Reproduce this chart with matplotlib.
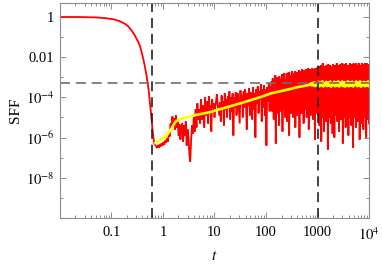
import matplotlib
matplotlib.use("Agg")
import matplotlib.pyplot as plt
import numpy as np
from matplotlib.ticker import FixedLocator, FixedFormatter

plt.rcParams["font.family"] = ["Liberation Serif", "DejaVu Serif"]
plt.rcParams["mathtext.fontset"] = "stix"

FRAME = "#8c8c8c"

# smooth early decay of the SFF (log10 t, log10 SFF)
DECAY_LOGT = [-2.0, -1.6, -1.3, -1.1, -0.95, -0.85, -0.75, -0.68, -0.6, -0.54,
              -0.48, -0.44, -0.4, -0.36, -0.32, -0.28, -0.24, -0.2, -0.17]
DECAY_LOGS = [0.0, -0.002, -0.02, -0.06, -0.12, -0.2, -0.32, -0.45, -0.7, -0.95,
              -1.25, -1.5, -1.9, -2.35, -2.9, -3.6, -4.6, -5.7, -6.3]

# noisy part, read in four stretches of log10 t
DIP_RANGE = (-0.13, 0.72)
DIP_LOGS = [-6.45, -6.52, -6.38, -6.5, -6.33, -6.44, -6.28, -6.4, -6.22, -6.35,
            -6.15, -6.25, -6.05, -6.2, -5.75, -5.95, -5.3, -5.6, -4.95, -5.4,
            -5.05, -5.6, -4.9, -5.5, -5.2, -5.9, -5.35, -6.1, -5.5, -5.3,
            -6.2, -5.4, -5.9, -5.2, -6.4, -5.6, -6.0, -6.8, -7.2, -6.1,
            -5.4, -5.8, -5.0, -5.7, -4.6, -5.5, -4.3, -5.1, -4.6, -5.3]

RAMP_RANGE = (0.74, 2.1)
RAMP_LOGS = [-4.1, -5.1, -4.4, -4.7, -5.5, -4.0, -4.6, -4.9, -4.2, -5.3,
             -3.95, -4.8, -4.4, -5.7, -4.1, -4.5, -4.3, -5.0, -4.5, -4.2,
             -3.85, -4.3, -4.6, -4.9, -4.25, -5.2, -3.9, -4.5, -4.2, -5.4,
             -3.8, -4.6, -4.1, -5.0, -3.95, -4.35, -3.7, -5.1, -4.0, -4.7,
             -3.8, -5.9, -4.0, -4.5, -3.75, -4.9, -4.1, -3.8, -4.6, -5.3,
             -3.65, -4.3, -3.9, -5.0, -3.7, -4.5, -3.6, -4.2, -5.6, -3.8,
             -4.4, -3.55, -4.9, -3.75, -4.2, -5.1, -3.5, -4.6, -3.8, -6.0,
             -3.6, -4.3, -3.45, -4.8, -3.7, -4.1, -3.35, -5.2, -3.6, -4.5,
             -3.4, -4.9, -3.6, -6.4, -3.5, -4.2, -3.3, -4.7, -3.45, -4.5]

RISE_RANGE = (2.11, 3.0)
RISE_LOGS = [-3.2, -4.7, -3.05, -4.2, -5.1, -3.3, -4.5, -2.9, -6.3, -3.15,
             -4.8, -3.0, -4.4, -3.25, -5.4, -2.95, -4.1, -4.7, -3.1, -4.3,
             -2.85, -5.7, -3.0, -4.6, -2.8, -4.0, -5.0, -3.1, -4.4, -2.8,
             -5.2, -3.0, -4.5, -2.75, -5.9, -3.0, -4.2, -2.9, -4.8, -2.7,
             -4.4, -3.0, -5.0, -2.8, -4.3, -2.7, -5.5, -2.95, -4.6, -2.75,
             -4.9, -2.85, -4.2, -2.65, -6.0, -2.8, -4.5, -2.7, -4.8, -2.6,
             -4.3, -2.8, -5.3, -2.65, -4.6, -2.75, -4.1, -2.6, -5.0, -2.7,
             -4.5, -2.55, -5.6, -2.7, -4.3, -2.6, -4.9, -2.7, -4.4, -2.55,
             -5.1, -2.65, -4.4, -2.6, -6.1, -2.55, -4.6, -2.65, -4.8, -2.5]

PLATEAU_RANGE = (3.01, 4.0)
PLATEAU_LOGS = [-2.6, -4.9, -2.45, -5.4, -2.6, -4.6, -2.4, -6.2, -2.55, -5.0,
                -2.3, -4.8, -2.6, -5.7, -2.45, -4.7, -2.5, -5.2, -2.4, -4.6,
                -2.55, -6.6, -2.35, -5.0, -2.5, -4.7, -2.4, -5.3, -2.6, -4.9,
                -2.45, -5.8, -2.35, -4.8, -2.5, -6.0, -2.4, -4.9, -2.55, -4.6,
                -2.3, -5.2, -2.5, -4.9, -2.4, -5.7, -2.55, -4.7, -2.35, -5.1,
                -2.45, -4.8, -2.3, -6.3, -2.5, -5.0, -2.35, -4.7, -2.5, -5.5,
                -2.3, -4.9, -2.45, -5.1, -2.4, -5.9, -2.5, -4.7, -2.3, -5.0,
                -2.45, -5.4, -2.35, -4.8, -2.5, -6.5, -2.3, -5.0, -2.4, -4.7,
                -2.5, -5.5, -2.3, -4.9, -2.4, -5.2, -2.5, -4.8, -2.3, -6.1,
                -2.4, -4.9, -2.5, -5.3, -2.3, -4.7, -2.4, -5.6, -2.35, -5.0,
                -2.3, -4.8, -2.45, -6.0, -2.3, -5.1, -2.4, -4.8, -2.35, -5.3]

# running average (yellow)
AVG_LOGT = [-0.15, -0.05, 0.05, 0.15, 0.24, 0.30, 0.45, 0.63, 0.93, 1.02,
            1.3, 1.6, 1.9, 2.1, 2.39, 2.6, 2.84]
AVG_LOGS = [-6.27, -6.12, -5.97, -5.62, -5.22, -5.12, -5.0, -4.88, -4.73, -4.65,
            -4.45, -4.22, -3.98, -3.8, -3.63, -3.5, -3.38]
AVG_TAIL_RANGE = (2.86, 4.0)
AVG_TAIL_LOGS = [-3.32, -3.4, -3.28, -3.42, -3.25, -3.44, -3.3, -3.38, -3.22, -3.45,
                 -3.27, -3.41, -3.2, -3.46, -3.29, -3.4, -3.23, -3.44, -3.26, -3.42,
                 -3.21, -3.47, -3.3, -3.39, -3.22, -3.45, -3.25, -3.43, -3.2, -3.46,
                 -3.28, -3.4, -3.21, -3.44, -3.24, -3.47, -3.27, -3.41, -3.2, -3.45,
                 -3.26, -3.42, -3.22, -3.46, -3.28, -3.39, -3.21, -3.44, -3.25, -3.43,
                 -3.2, -3.47, -3.27, -3.4, -3.23, -3.45, -3.26, -3.42, -3.21, -3.44]

T_MARKERS = [0.6, 1000]
SFF_LEVEL = 5e-4

X_MAJOR = [0.01, 0.1, 1, 10, 100, 1000, 1e4]
X_LABELS = ["", "0.1", "1", "10", "100", "1000", "$10^4$"]
Y_MAJOR = [1e-8, 1e-6, 1e-4, 1e-2, 1]
Y_LABELS = ["$10^{-8}$", "$10^{-6}$", "$10^{-4}$", "0.01", "1"]
Y_MINOR = [1e-9, 1e-7, 1e-5, 1e-3, 0.1]


def _stretch(bounds, values):
    return np.linspace(bounds[0], bounds[1], len(values))


logt = np.concatenate([
    DECAY_LOGT,
    _stretch(DIP_RANGE, DIP_LOGS),
    _stretch(RAMP_RANGE, RAMP_LOGS),
    _stretch(RISE_RANGE, RISE_LOGS),
    _stretch(PLATEAU_RANGE, PLATEAU_LOGS),
])
logs = np.concatenate([DECAY_LOGS, DIP_LOGS, RAMP_LOGS, RISE_LOGS, PLATEAU_LOGS])

avg_t = np.concatenate([AVG_LOGT, _stretch(AVG_TAIL_RANGE, AVG_TAIL_LOGS)])
avg_s = np.concatenate([AVG_LOGS, AVG_TAIL_LOGS])

fig = plt.figure(figsize=(3.82, 2.69), dpi=100)
ax = fig.add_axes([0.157, 0.19, 0.809, 0.799])

ax.plot(10 ** logt, 10 ** logs, color="#ff0000", lw=1.3, solid_joinstyle="miter")
ax.plot(10 ** avg_t, 10 ** avg_s, color="#ffff00", lw=1.9)

for t in T_MARKERS:
    ax.axvline(t, color="#222222", lw=1.2, dashes=(6, 3.5))
ax.axhline(SFF_LEVEL, color="#6e6e6e", lw=1.2, dashes=(6, 3.5))

ax.set_xscale("log")
ax.set_yscale("log")
ax.set_xlim(0.01, 1e4)
ax.set_ylim(1e-10, 10 ** 0.7)

ax.xaxis.set_major_locator(FixedLocator(X_MAJOR))
ax.xaxis.set_major_formatter(FixedFormatter(X_LABELS))
x_minor = [m * d for d in X_MAJOR[:-1] for m in range(2, 10)]
ax.xaxis.set_minor_locator(FixedLocator(x_minor))
ax.xaxis.set_minor_formatter(FixedFormatter([""] * len(x_minor)))

ax.yaxis.set_major_locator(FixedLocator(Y_MAJOR))
ax.yaxis.set_major_formatter(FixedFormatter(Y_LABELS))
ax.yaxis.set_minor_locator(FixedLocator(Y_MINOR))
ax.yaxis.set_minor_formatter(FixedFormatter([""] * len(Y_MINOR)))

for spine in ax.spines.values():
    spine.set_color(FRAME)
    spine.set_linewidth(0.8)
ax.tick_params(which="both", direction="in", top=True, right=True,
               color=FRAME, width=0.7, labelsize=10.5, labelcolor="black")
ax.tick_params(which="major", length=4, pad=4)
ax.tick_params(axis="x", which="major", pad=6)
ax.tick_params(which="minor", length=2.2)

ax.set_xlabel("$t$", fontsize=11, labelpad=5)
ax.set_ylabel("SFF", fontsize=11, labelpad=3)

fig.savefig("out.png", dpi=100)
